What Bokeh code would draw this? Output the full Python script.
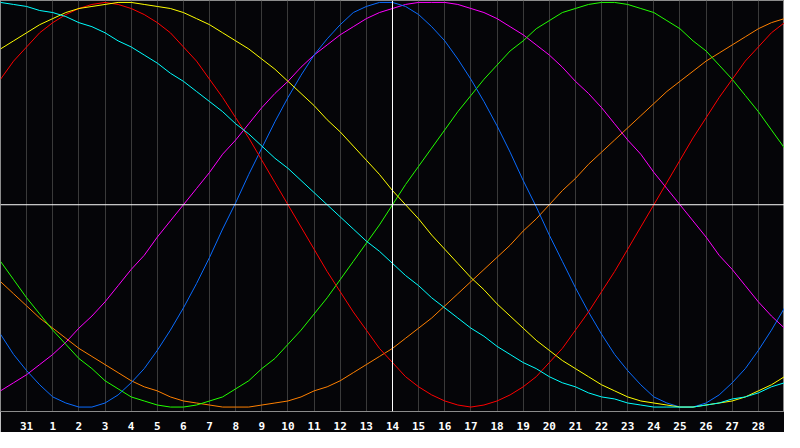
from bokeh.plotting import figure
from bokeh.models import Range1d, FixedTicker, Span
from bokeh.embed import file_html
from bokeh.resources import INLINE

# day positions across the chart (0 = left edge, 30 = right edge)
day_index = list(range(31))
half_index = [d + 0.5 for d in range(30)]
tick_index = list(range(1, 30))
tick_labels = ["31"] + [str(d) for d in range(1, 29)]
today_index = 15

# cycle values: one per day, then one between each pair of days
physical = [-0.64, -0.82, -0.95, -1.0, -0.98, -0.88, -0.72, -0.51, -0.26, 0.01, 0.28,
            0.53, 0.74, 0.89, 0.98, 1.0, 0.94, 0.81, 0.62, 0.39, 0.12, -0.15, -0.41,
            -0.64, -0.82, -0.95, -1.0, -0.98, -0.88, -0.72, -0.51]
physical_mid = [-0.74, -0.89, -0.98, -1.0, -0.94, -0.81, -0.62, -0.39, -0.12, 0.15, 0.41,
                0.64, 0.82, 0.95, 1.0, 0.98, 0.88, 0.72, 0.51, 0.26, -0.01, -0.28, -0.53,
                -0.74, -0.89, -0.98, -1.0, -0.94, -0.81, -0.62]
emotional = [0.62, 0.78, 0.90, 0.97, 1.0, 0.97, 0.90, 0.78, 0.62, 0.43, 0.22, 0.0,
             -0.22, -0.43, -0.62, -0.78, -0.90, -0.97, -1.0, -0.97, -0.90, -0.78, -0.62,
             -0.43, -0.22, 0.0, 0.22, 0.43, 0.62, 0.78, 0.90]
emotional_mid = [0.71, 0.85, 0.94, 0.99, 0.99, 0.94, 0.85, 0.71, 0.53, 0.33, 0.11, -0.11,
                 -0.33, -0.53, -0.71, -0.85, -0.94, -0.99, -0.99, -0.94, -0.85, -0.71,
                 -0.53, -0.33, -0.11, 0.11, 0.33, 0.53, 0.71, 0.85]
intellectual = [-0.28, -0.46, -0.62, -0.76, -0.87, -0.95, -0.99, -1.0, -0.97, -0.91, -0.81,
                -0.69, -0.54, -0.37, -0.19, 0.0, 0.19, 0.37, 0.54, 0.69, 0.81, 0.91, 0.97,
                1.0, 0.99, 0.95, 0.87, 0.76, 0.62, 0.46, 0.28]
intellectual_mid = [-0.37, -0.54, -0.69, -0.81, -0.91, -0.97, -1.0, -0.99, -0.95, -0.87,
                    -0.76, -0.62, -0.46, -0.28, -0.10, 0.10, 0.28, 0.46, 0.62, 0.76, 0.87,
                    0.95, 0.99, 1.0, 0.97, 0.91, 0.81, 0.69, 0.54, 0.37]
intuitive = [-0.92, -0.84, -0.74, -0.61, -0.48, -0.32, -0.16, 0.0, 0.16, 0.32, 0.48, 0.61,
             0.74, 0.84, 0.92, 0.97, 1.0, 1.0, 0.97, 0.92, 0.84, 0.74, 0.61, 0.48, 0.32,
             0.16, 0.0, -0.16, -0.32, -0.48, -0.61]
intuitive_mid = [-0.88, -0.79, -0.68, -0.55, -0.40, -0.25, -0.08, 0.08, 0.25, 0.40, 0.55,
                 0.68, 0.79, 0.88, 0.95, 0.99, 1.0, 0.99, 0.95, 0.88, 0.79, 0.68, 0.55,
                 0.40, 0.25, 0.08, -0.08, -0.25, -0.40, -0.55]
aesthetic = [0.77, 0.85, 0.92, 0.97, 0.99, 1.0, 0.98, 0.95, 0.89, 0.81, 0.72, 0.61, 0.49,
             0.36, 0.22, 0.07, -0.07, -0.22, -0.36, -0.49, -0.61, -0.72, -0.81, -0.89,
             -0.95, -0.98, -1.0, -0.99, -0.97, -0.92, -0.85]
aesthetic_mid = [0.81, 0.89, 0.95, 0.98, 1.0, 0.99, 0.97, 0.92, 0.85, 0.77, 0.67, 0.55,
                 0.42, 0.29, 0.15, 0.0, -0.15, -0.29, -0.42, -0.55, -0.67, -0.77, -0.85,
                 -0.92, -0.97, -0.99, -1.0, -0.98, -0.95, -0.89]
awareness = [-0.38, -0.5, -0.61, -0.71, -0.79, -0.87, -0.92, -0.97, -0.99, -1.0, -0.99,
             -0.97, -0.92, -0.87, -0.79, -0.71, -0.61, -0.5, -0.38, -0.26, -0.13, 0.0,
             0.13, 0.26, 0.38, 0.5, 0.61, 0.71, 0.79, 0.87, 0.92]
awareness_mid = [-0.44, -0.56, -0.66, -0.75, -0.83, -0.90, -0.95, -0.98, -1.0, -1.0, -0.98,
                 -0.95, -0.90, -0.83, -0.75, -0.66, -0.56, -0.44, -0.32, -0.20, -0.07,
                 0.07, 0.20, 0.32, 0.44, 0.56, 0.66, 0.75, 0.83, 0.90]
spiritual = [1.0, 0.98, 0.95, 0.9, 0.85, 0.78, 0.7, 0.61, 0.51, 0.4, 0.29, 0.18, 0.06,
             -0.06, -0.18, -0.29, -0.4, -0.51, -0.61, -0.7, -0.78, -0.85, -0.9, -0.95,
             -0.98, -1.0, -1.0, -0.99, -0.96, -0.93, -0.88]
spiritual_mid = [0.99, 0.96, 0.93, 0.88, 0.81, 0.74, 0.65, 0.56, 0.46, 0.35, 0.23, 0.12,
                 0.0, -0.12, -0.23, -0.35, -0.46, -0.56, -0.65, -0.74, -0.81, -0.88, -0.93,
                 -0.96, -0.99, -1.0, -1.0, -0.98, -0.95, -0.90]


def merge(whole, mid):
    # put the whole-day and between-day readings in x order
    out = []
    for w, m in zip(whole, mid):
        out += [w, m]
    out.append(whole[-1])
    return out


xs = merge(day_index, half_index)

BG = '#050508'

p = figure(
    width=784,
    height=432,
    output_backend="svg",
    toolbar_location=None,
    x_range=Range1d(0, 30),
    y_range=Range1d(-1.022, 1.0095),
    y_axis_location=None,
    background_fill_color=BG,
    border_fill_color=BG,
    min_border_left=0,
    min_border_right=0,
    min_border_top=0,
    min_border_bottom=19,
)
p.outline_line_color = '#8c8c8c'

p.xaxis.ticker = FixedTicker(ticks=tick_index)
p.xaxis.major_label_overrides = {i: s for i, s in zip(tick_index, tick_labels)}
p.xaxis.axis_line_color = '#8c8c8c'
p.xaxis.major_tick_line_color = None
p.xaxis.minor_tick_line_color = None
p.xaxis.major_label_standoff = 4
p.xaxis.major_label_text_color = 'white'
p.xaxis.major_label_text_font = 'DejaVu Sans Mono'
p.xaxis.major_label_text_font_style = 'bold'
p.xaxis.major_label_text_font_size = '11px'

p.xgrid.ticker = FixedTicker(ticks=tick_index)
p.xgrid.grid_line_color = '#3a3a3a'
p.ygrid.grid_line_color = None

p.add_layout(Span(location=0, dimension='width', line_color='white', line_width=1))
p.add_layout(Span(location=today_index, dimension='height', line_color='white', line_width=1))

p.line(xs, merge(awareness, awareness_mid), color='#ff8000', line_width=1)
p.line(xs, merge(intuitive, intuitive_mid), color='#ff00ff', line_width=1)
p.line(xs, merge(intellectual, intellectual_mid), color='#22ff00', line_width=1)
p.line(xs, merge(physical, physical_mid), color='#0a6cff', line_width=1)
p.line(xs, merge(emotional, emotional_mid), color='#ff0000', line_width=1)
p.line(xs, merge(aesthetic, aesthetic_mid), color='#ffff00', line_width=1)
p.line(xs, merge(spiritual, spiritual_mid), color='#00ffff', line_width=1)

open("out.html", "w").write(file_html(p, INLINE))
